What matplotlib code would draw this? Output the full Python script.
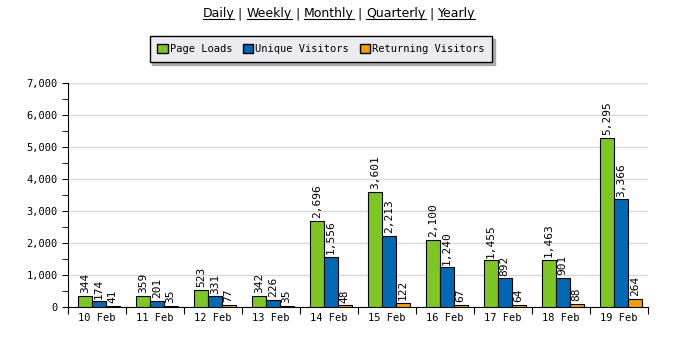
import matplotlib
matplotlib.use("Agg")
import matplotlib.pyplot as plt
from matplotlib.lines import Line2D
from matplotlib.patches import Patch
import numpy as np

# data
days = ["10 Feb", "11 Feb", "12 Feb", "13 Feb", "14 Feb",
        "15 Feb", "16 Feb", "17 Feb", "18 Feb", "19 Feb"]
page_loads = [344, 359, 523, 342, 2696, 3601, 2100, 1455, 1463, 5295]
unique_visitors = [174, 201, 331, 226, 1556, 2213, 1240, 892, 901, 3366]
returning_visitors = [41, 35, 77, 35, 48, 122, 67, 64, 88, 264]
links = ["Daily", "Weekly", "Monthly", "Quarterly", "Yearly"]

series = [("Page Loads", page_loads, "#7dc623"),
          ("Unique Visitors", unique_visitors, "#0068b4"),
          ("Returning Visitors", returning_visitors, "#f0a000")]

mono = "DejaVu Sans Mono"

fig = plt.figure(figsize=(6.78, 3.39), dpi=100)
ax = fig.add_axes([68 / 678, 32 / 339, 580 / 678, 224 / 339])

x = np.arange(len(days))
w = 0.24
for i, (name, vals, col) in enumerate(series):
    bars = ax.bar(x + (i - 1) * w + 0.03, vals, w, color=col,
                  edgecolor="black", linewidth=0.8, zorder=3)
    ax.bar_label(bars, labels=[f"{v:,}" for v in vals], rotation=90,
                 padding=2, fontsize=8, family=mono)

ax.set_xlim(-0.5, len(days) - 0.5)
ax.set_ylim(0, 7000)
ax.set_yticks(np.arange(0, 7001, 1000))
ax.set_yticks(np.arange(0, 7001, 500), minor=True)
ax.set_yticklabels([f"{v:,}" for v in range(0, 7001, 1000)], family=mono, fontsize=7.5)
ax.grid(axis="y", color="#d8d8d8", linewidth=1, zorder=0)

ax.set_xticks(np.arange(-0.5, len(days), 1))
ax.set_xticklabels([])
ax.set_xticks(x, minor=True)
ax.set_xticklabels(days, minor=True, family=mono, fontsize=7.5)
ax.tick_params(axis="x", which="minor", length=0, pad=4)
ax.tick_params(axis="x", which="major", length=5, direction="out")
ax.tick_params(axis="y", which="both", length=4, direction="out")
for s in ["top", "right"]:
    ax.spines[s].set_visible(False)

# legend
handles = [Patch(facecolor=c, edgecolor="black", label=n) for n, _, c in series]
leg = fig.legend(handles=handles, ncol=3, loc="center", bbox_to_anchor=(321 / 678, 1 - 49 / 339),
                 prop={"family": mono, "size": 7.5}, frameon=True, fancybox=False,
                 shadow={"color": "#aaaaaa", "alpha": 1}, handlelength=1.0, handleheight=1.0,
                 handletextpad=0.2, columnspacing=1.0, borderpad=0.75)
leg.get_frame().set_facecolor("#ecebf0")
leg.get_frame().set_edgecolor("black")
leg.get_frame().set_alpha(1)

# period links, underlined
parts = []
for i, l in enumerate(links):
    parts.append((l, True))
    if i < len(links) - 1:
        parts.append((" | ", False))
fig.canvas.draw()
r = fig.canvas.get_renderer()
texts = []
widths = []
for t, _ in parts:
    tx = fig.text(0, 0, t, fontsize=9, family="DejaVu Sans", va="baseline")
    widths.append(tx.get_window_extent(r).width)
    texts.append(tx)
total = sum(widths)
xpos = (678 - total) / 2
base = 339 - 17
for (t, ul), tx, wd in zip(parts, texts, widths):
    tx.set_position((xpos / 678, base / 339))
    if ul:
        fig.add_artist(Line2D([xpos / 678, (xpos + wd) / 678], [(base - 2) / 339] * 2,
                              color="black", linewidth=0.8))
    xpos += wd

fig.savefig("out.png", dpi=100)
